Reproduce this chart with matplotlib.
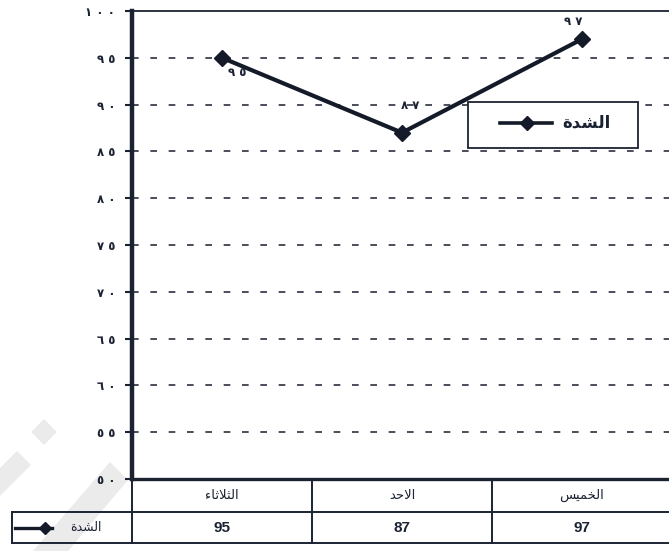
import matplotlib
matplotlib.use("Agg")
import matplotlib.pyplot as plt
from matplotlib.lines import Line2D
from matplotlib.patches import Rectangle, Polygon

# ---- data -------------------------------------------------------------
days = ["الثلاثاء", "الاحد", "الخميس"]
intensity = [95, 87, 97]
series_name = "الشدة"
y_ticks = [50, 55, 60, 65, 70, 75, 80, 85, 90, 95, 100]

# ---- Arabic helpers (contextual forms + visual order) -----------------
DUAL = {
    "ل": (0xFEDD, 0xFEDE, 0xFEDF, 0xFEE0),
    "ش": (0xFEB5, 0xFEB6, 0xFEB7, 0xFEB8),
    "ث": (0xFE99, 0xFE9A, 0xFE9B, 0xFE9C),
    "ح": (0xFEA1, 0xFEA2, 0xFEA3, 0xFEA4),
    "خ": (0xFEA5, 0xFEA6, 0xFEA7, 0xFEA8),
    "م": (0xFEE1, 0xFEE2, 0xFEE3, 0xFEE4),
    "ي": (0xFEF1, 0xFEF2, 0xFEF3, 0xFEF4),
    "س": (0xFEB1, 0xFEB2, 0xFEB3, 0xFEB4),
}
RIGHT = {
    "ا": (0xFE8D, 0xFE8E),
    "د": (0xFEA9, 0xFEAA),
    "ة": (0xFE93, 0xFE94),
}
ISOLATED = {"ء": 0xFE80}


def shape(word):
    out = []
    i = 0
    prev_joins = False
    while i < len(word):
        c = word[i]
        nxt = word[i + 1] if i + 1 < len(word) else None
        if c == "ل" and nxt == "ا":
            out.append(chr(0xFEFC if prev_joins else 0xFEFB))
            prev_joins = False
            i += 2
            continue
        if c in DUAL:
            next_joins = nxt is not None and (nxt in DUAL or nxt in RIGHT)
            iso, fin, ini, med = DUAL[c]
            if prev_joins and next_joins:
                form = med
            elif prev_joins:
                form = fin
            elif next_joins:
                form = ini
            else:
                form = iso
            out.append(chr(form))
            prev_joins = next_joins
        elif c in RIGHT:
            iso, fin = RIGHT[c]
            out.append(chr(fin if prev_joins else iso))
            prev_joins = False
        else:
            out.append(chr(ISOLATED.get(c, ord(c))))
            prev_joins = False
        i += 1
    return "".join(reversed(out))


def indic(n, sep=" "):
    return sep.join(chr(0x660 + int(d)) for d in str(n))


# ---- figure -----------------------------------------------------------
W, H = 669, 551
fig = plt.figure(figsize=(W / 100, H / 100), dpi=100)
fig.patch.set_facecolor("white")


def fx(x):
    return x / W


def fy(y):
    return 1 - y / H


INK = "#1b2232"
LINE = "#141a28"

# faint background watermark
wm = "#ebebeb"
for pts in [
    [(44, 419), (57, 432), (44, 445), (31, 432)],
    [(0, 468), (17, 451), (31, 465), (0, 496)],
    [(110, 462), (128, 480), (68, 551), (33, 551)],
]:
    fig.add_artist(Polygon([(fx(a), fy(b)) for a, b in pts], closed=True,
                           transform=fig.transFigure, facecolor=wm,
                           edgecolor="none", zorder=0))

ax = fig.add_axes([fx(132), fy(479), 540 / W, 468 / H])
ax.set_facecolor("none")

x = list(range(len(days)))
ax.set_xlim(-0.5, len(days) - 0.5)
ax.set_ylim(50, 100)

# dashed grid
for v in y_ticks[1:-1]:
    ax.axhline(v, color="#2b3040", lw=1.2, dashes=(4, 7), zorder=1)

ax.plot(x, intensity, color=LINE, lw=3.0, marker="D", ms=8,
        markeredgecolor=LINE, markerfacecolor=LINE, zorder=3)

# value labels
offsets = [(15, -15), (8, 27), (-9, 18)]
for xi, v, off in zip(x, intensity, offsets):
    ax.annotate(indic(v), (xi, v), xytext=off, textcoords="offset pixels",
                ha="center", va="center", fontsize=8.5, fontweight="bold",
                color=INK, family="DejaVu Sans")

ax.set_yticks(y_ticks)
ax.set_yticklabels([indic(t) for t in y_ticks], fontsize=8.5,
                   fontweight="bold", color=INK, family="DejaVu Sans")
ax.tick_params(axis="y", direction="out", length=5, width=1.5, pad=7,
               colors=INK)
ax.set_xticks([])

ax.spines["right"].set_visible(False)
ax.spines["left"].set_linewidth(3.2)
ax.spines["bottom"].set_linewidth(2.4)
ax.spines["top"].set_linewidth(1.3)
for s in ax.spines.values():
    s.set_color(INK)

# ---- legend box inside the plot --------------------------------------
fig.add_artist(Rectangle((fx(468), fy(148)), (638 - 468) / W, (148 - 102) / H,
                         transform=fig.transFigure, facecolor="white",
                         edgecolor=INK, lw=1.3, zorder=4))
fig.add_artist(Line2D([fx(500), fx(552)], [fy(123), fy(123)],
                      transform=fig.transFigure, color=LINE, lw=2.6, zorder=5))
fig.add_artist(Line2D([fx(527)], [fy(123)], transform=fig.transFigure,
                      color=LINE, marker="D", ms=7, zorder=5))
fig.text(fx(586), fy(123), shape(series_name), ha="center", va="center",
         fontsize=12, fontweight="bold", color=INK, family="DejaVu Sans",
         zorder=5)

# ---- data table under the axis ---------------------------------------
row1, row2 = 512, 543
tlw = 1.4
for yy in [row1, row2]:
    fig.add_artist(Line2D([fx(12), fx(669)], [fy(yy), fy(yy)],
                          transform=fig.transFigure, color=INK, lw=tlw))
for xi in [-0.5, 0.5, 1.5]:
    xf = fx(132 + (xi + 0.5) * 180)
    fig.add_artist(Line2D([xf, xf], [fy(479), fy(row2)],
                          transform=fig.transFigure, color=INK, lw=tlw))
fig.add_artist(Line2D([fx(12), fx(12)], [fy(row1), fy(row2)],
                      transform=fig.transFigure, color=INK, lw=tlw))

for xi, d, v in zip(x, days, intensity):
    xc = fx(132 + (xi + 0.5) * 180)
    fig.text(xc, fy((479 + row1) / 2), shape(d), ha="center", va="center",
             fontsize=9.5, color=INK, family="DejaVu Sans")
    fig.text(xc, fy((row1 + row2) / 2), str(v), ha="center", va="center",
             fontsize=11, fontweight="bold", color=INK,
             family="Liberation Sans")

# series key in the first table cell
ym = fy((row1 + row2) / 2)
fig.add_artist(Line2D([fx(15), fx(52)], [ym, ym], transform=fig.transFigure,
                      color=LINE, lw=2.4))
fig.add_artist(Line2D([fx(45)], [ym], transform=fig.transFigure, color=LINE,
                      marker="D", ms=6))
fig.text(fx(86), ym, shape(series_name), ha="center", va="center",
         fontsize=9, color=INK, family="DejaVu Sans")

fig.savefig("out.png", dpi=100)
